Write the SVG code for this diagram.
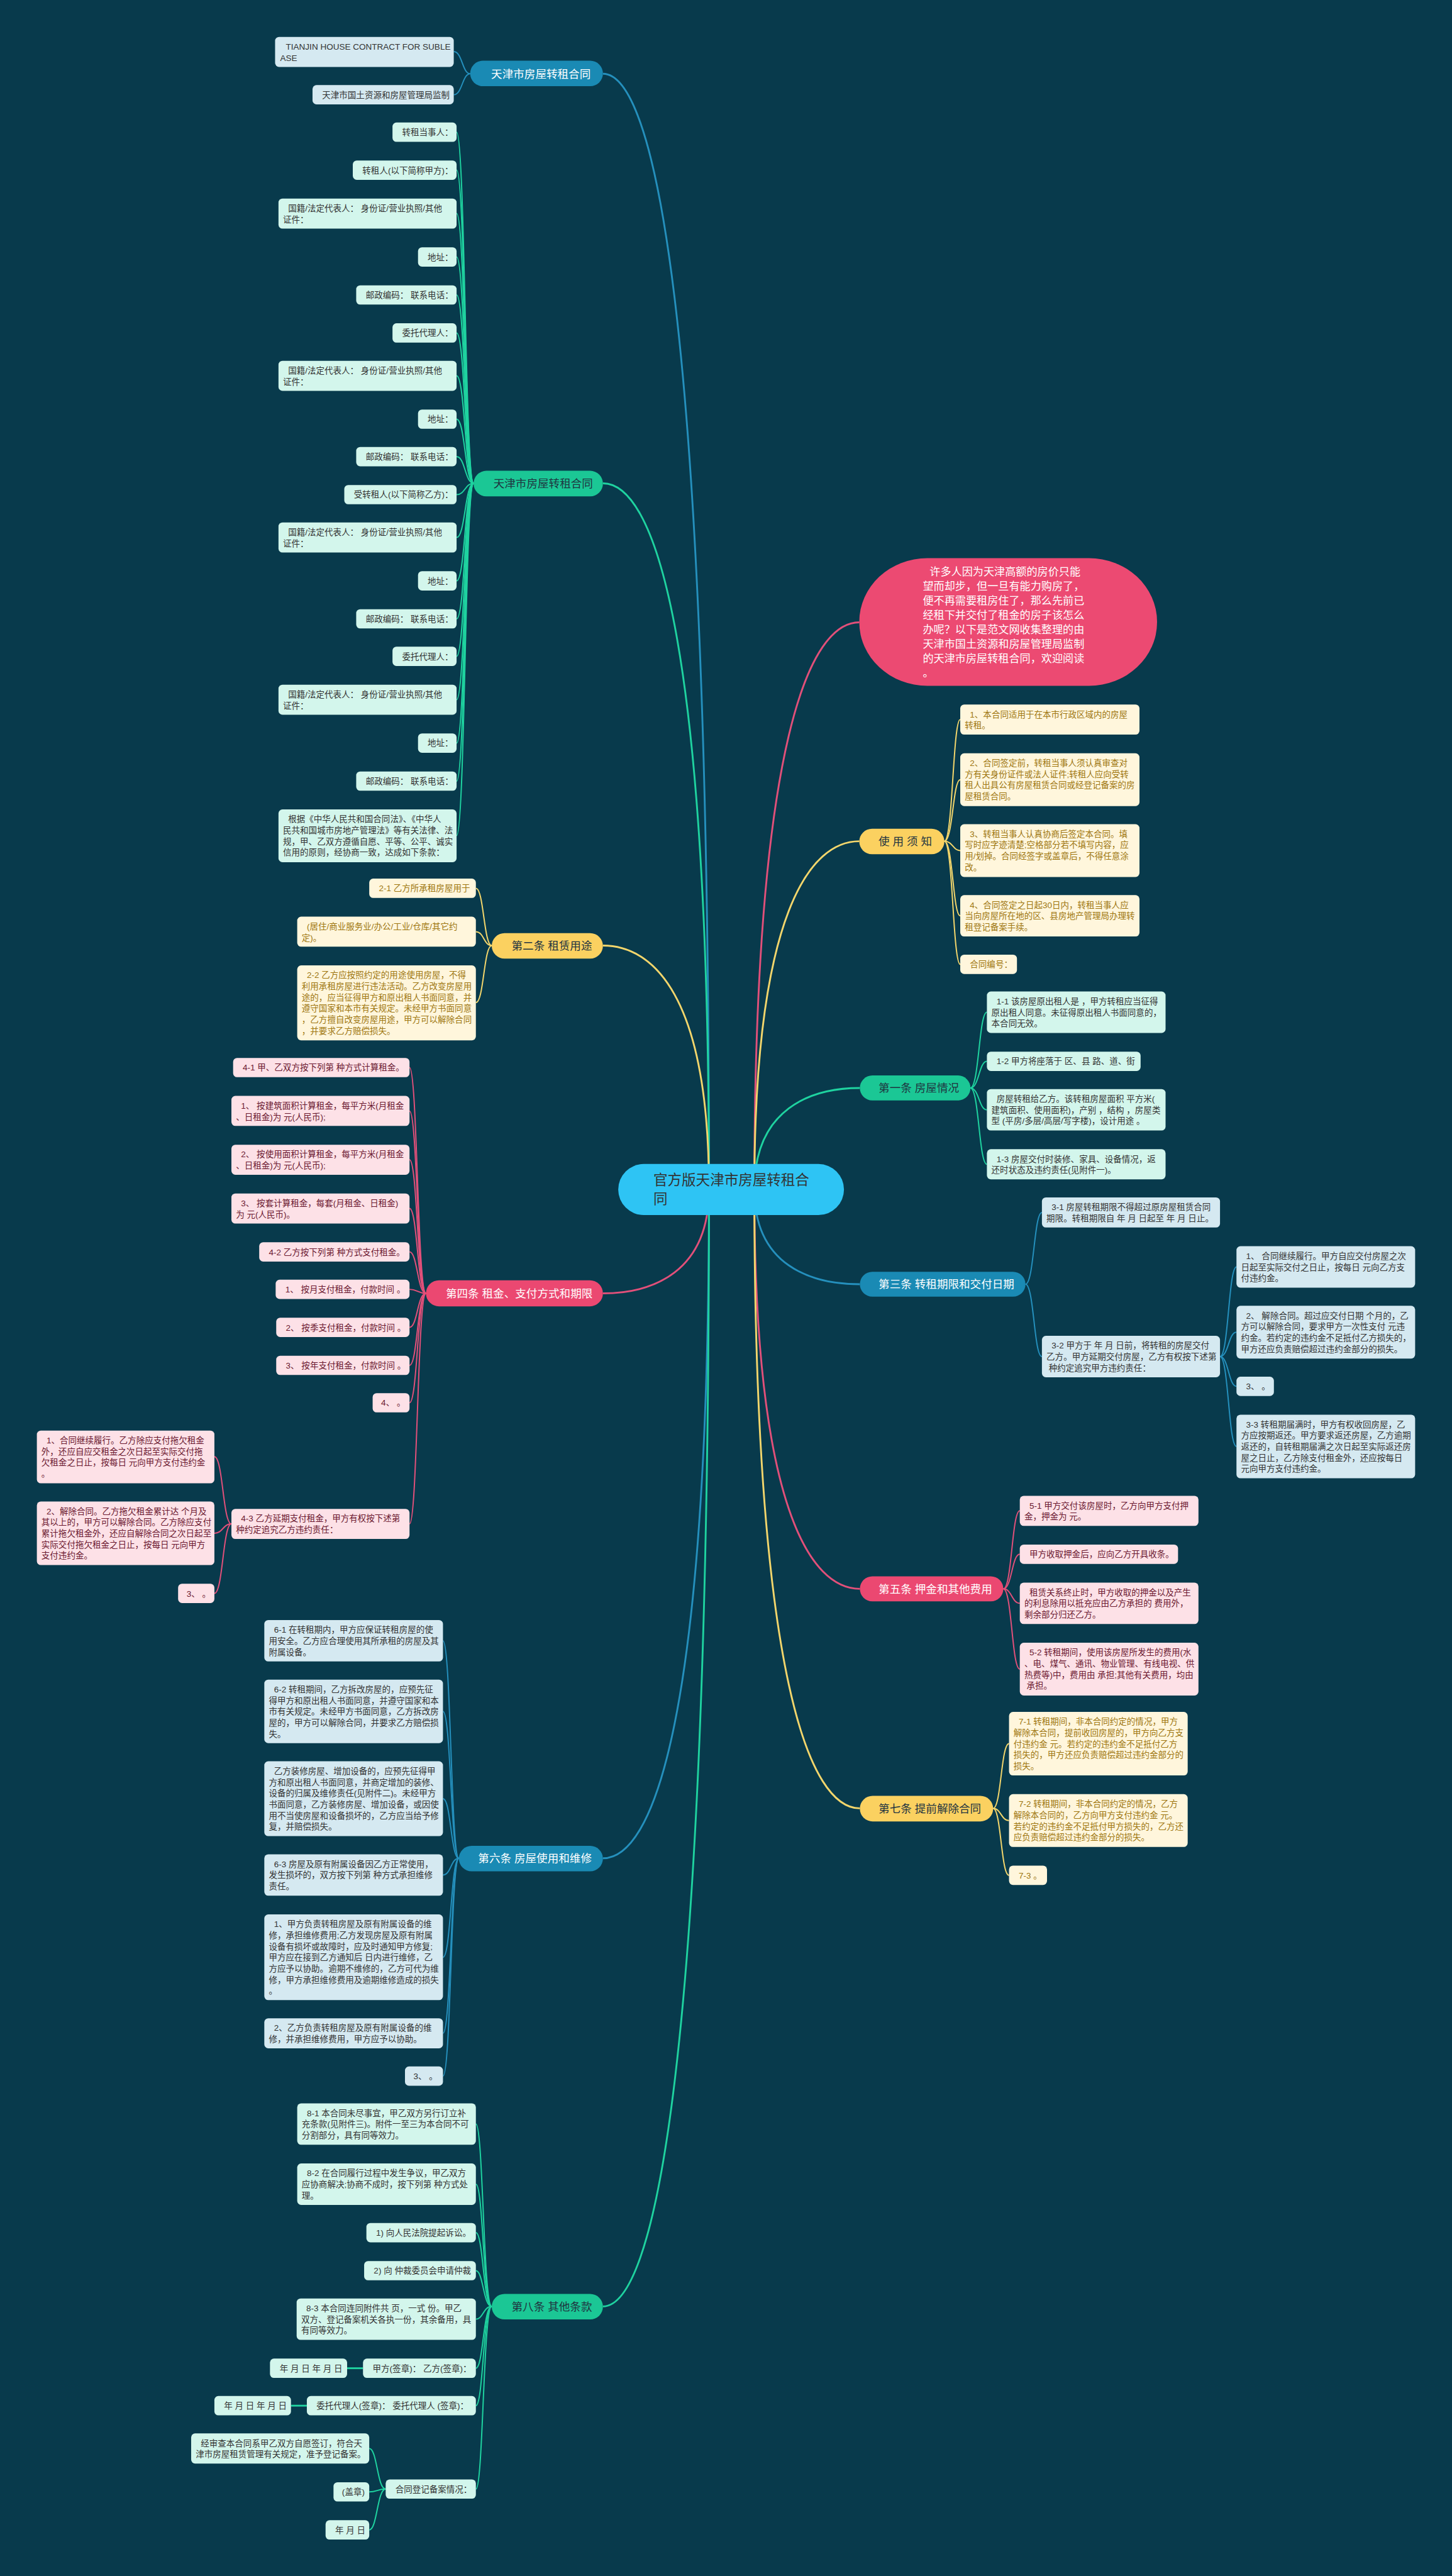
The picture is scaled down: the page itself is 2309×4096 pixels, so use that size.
<svg xmlns="http://www.w3.org/2000/svg" width="2309" height="4096" viewBox="0 0 2309 4096">
<style>
text{font-family:"Liberation Sans","Noto Sans CJK SC",sans-serif}
.t{font-size:15px}
.mt{font-size:19.5px}
.w{fill:#ffffff}
.d{fill:#1f3440}
.tb{fill:#333333}
.tp{fill:#6b1830}
.ty{fill:#9e7610}
.nb{fill:#1a8ab4}
.ng{fill:#1bc795}
.ny{fill:#fbd160}
.np{fill:#eb4871}
.bb{fill:#d5e9f1}
.bm{fill:#d3f6ec}
.by{fill:#fff6dc}
.bp{fill:#fde1e7}
.c{fill:none;stroke-width:2.2}
.m{stroke-width:3.2}
.sb{stroke:#2590bd}
.sg{stroke:#1fd3a0}
.sy{stroke:#f3d66c}
.sp{stroke:#e2507a}
</style>
<rect width="2309" height="4096" fill="#083a4c"/>
<g transform="scale(0.90195)">
<g id="connectors">
<path class="c m sb" d="M1250,2097 C1250,523 1150,130 1063,130"/>
<path class="c m sg" d="M1250,2097 C1250,1101 1150,852 1063,852"/>
<path class="c m sy" d="M1250,2097 C1250,1753 1150,1667 1063,1667"/>
<path class="c m sp" d="M1250,2097 C1250,2243 1150,2280 1063,2280"/>
<path class="c m sb" d="M1250,2097 C1250,3040 1150,3276 1063,3276"/>
<path class="c m sg" d="M1250,2097 C1250,3672 1150,4066 1063,4066"/>
<path class="c m sp" d="M1330,2097 C1330,1297 1430,1097 1515,1097"/>
<path class="c m sy" d="M1330,2097 C1330,1606 1430,1483 1515,1483"/>
<path class="c m sg" d="M1330,2097 C1330,1954 1430,1918 1516,1918"/>
<path class="c m sb" d="M1330,2097 C1330,2231 1430,2264 1516,2264"/>
<path class="c m sp" d="M1330,2097 C1330,2660 1430,2801 1516,2801"/>
<path class="c m sy" d="M1330,2097 C1330,2970 1430,3188 1516,3188"/>
<!-- A -->
<path class="c sb" d="M829,130 C815,130 815,91 800,91"/>
<path class="c sb" d="M829,130 C815,130 815,167 800,167"/>
<!-- B -->
<path class="c sg" d="M835,852 C820,852 820,233 805,233"/>
<path class="c sg" d="M835,852 C820,852 820,300 805,300"/>
<path class="c sg" d="M835,852 C820,852 820,376.5 805,376.5"/>
<path class="c sg" d="M835,852 C820,852 820,453 805,453"/>
<path class="c sg" d="M835,852 C820,852 820,520 805,520"/>
<path class="c sg" d="M835,852 C820,852 820,587 805,587"/>
<path class="c sg" d="M835,852 C820,852 820,662.5 805,662.5"/>
<path class="c sg" d="M835,852 C820,852 820,739 805,739"/>
<path class="c sg" d="M835,852 C820,852 820,805 805,805"/>
<path class="c sg" d="M835,852 C820,852 820,872 805,872"/>
<path class="c sg" d="M835,852 C820,852 820,947.5 805,947.5"/>
<path class="c sg" d="M835,852 C820,852 820,1024 805,1024"/>
<path class="c sg" d="M835,852 C820,852 820,1091 805,1091"/>
<path class="c sg" d="M835,852 C820,852 820,1157 805,1157"/>
<path class="c sg" d="M835,852 C820,852 820,1233.5 805,1233.5"/>
<path class="c sg" d="M835,852 C820,852 820,1310 805,1310"/>
<path class="c sg" d="M835,852 C820,852 820,1377 805,1377"/>
<path class="c sg" d="M835,852 C820,852 820,1473 805,1473"/>
<!-- C -->
<path class="c sy" d="M867,1667 C853,1667 853,1566 839,1566"/>
<path class="c sy" d="M867,1667 C853,1667 853,1642.5 839,1642.5"/>
<path class="c sy" d="M867,1667 C853,1667 853,1767.5 839,1767.5"/>
<!-- D -->
<path class="c sp" d="M751,2280 C736,2280 736,1882 722,1882"/>
<path class="c sp" d="M751,2280 C736,2280 736,1958.5 722,1958.5"/>
<path class="c sp" d="M751,2280 C736,2280 736,2044.5 722,2044.5"/>
<path class="c sp" d="M751,2280 C736,2280 736,2130.5 722,2130.5"/>
<path class="c sp" d="M751,2280 C736,2280 736,2207 722,2207"/>
<path class="c sp" d="M751,2280 C736,2280 736,2273 722,2273"/>
<path class="c sp" d="M751,2280 C736,2280 736,2340 722,2340"/>
<path class="c sp" d="M751,2280 C736,2280 736,2407 722,2407"/>
<path class="c sp" d="M751,2280 C736,2280 736,2473 722,2473"/>
<path class="c sp" d="M751,2280 C736,2280 736,2686.5 722,2686.5"/>
<path class="c sp" d="M408,2686.5 C393,2686.5 393,2568 378,2568"/>
<path class="c sp" d="M408,2686.5 C393,2686.5 393,2703 378,2703"/>
<path class="c sp" d="M408,2686.5 C393,2686.5 393,2809 378,2809"/>
<!-- E -->
<path class="c sb" d="M809,3276 C795,3276 795,2892.5 781,2892.5"/>
<path class="c sb" d="M809,3276 C795,3276 795,3017 781,3017"/>
<path class="c sb" d="M809,3276 C795,3276 795,3171 781,3171"/>
<path class="c sb" d="M809,3276 C795,3276 795,3305.5 781,3305.5"/>
<path class="c sb" d="M809,3276 C795,3276 795,3450.5 781,3450.5"/>
<path class="c sb" d="M809,3276 C795,3276 795,3584.5 781,3584.5"/>
<path class="c sb" d="M809,3276 C795,3276 795,3660 781,3660"/>
<!-- F -->
<path class="c sg" d="M867,4066 C852,4066 852,3744.5 839,3744.5"/>
<path class="c sg" d="M867,4066 C852,4066 852,3850.5 839,3850.5"/>
<path class="c sg" d="M867,4066 C852,4066 852,3936 839,3936"/>
<path class="c sg" d="M867,4066 C852,4066 852,4003 839,4003"/>
<path class="c sg" d="M867,4066 C852,4066 852,4088.5 839,4088.5"/>
<path class="c sg" d="M867,4066 C852,4066 852,4175 839,4175"/>
<path class="c sg" d="M867,4066 C852,4066 852,4241 839,4241"/>
<path class="c sg" d="M867,4066 C852,4066 852,4388 839,4388"/>
<path class="c m sg" d="M640,4175 L612,4175"/>
<path class="c m sg" d="M541,4241 L513,4241"/>
<path class="c sg" d="M680,4388 C665,4388 665,4316.5 651,4316.5"/>
<path class="c sg" d="M680,4388 C665,4388 665,4393 651,4393"/>
<path class="c sg" d="M680,4388 C665,4388 665,4460 651,4460"/>
<!-- H -->
<path class="c sy" d="M1665,1483 C1680,1483 1680,1268.5 1693,1268.5"/>
<path class="c sy" d="M1665,1483 C1680,1483 1680,1374.5 1693,1374.5"/>
<path class="c sy" d="M1665,1483 C1680,1483 1680,1499.5 1693,1499.5"/>
<path class="c sy" d="M1665,1483 C1680,1483 1680,1614.5 1693,1614.5"/>
<path class="c sy" d="M1665,1483 C1680,1483 1680,1700 1693,1700"/>
<!-- I -->
<path class="c sg" d="M1711,1918 C1726,1918 1726,1784.5 1740,1784.5"/>
<path class="c sg" d="M1711,1918 C1726,1918 1726,1871 1740,1871"/>
<path class="c sg" d="M1711,1918 C1726,1918 1726,1956.5 1740,1956.5"/>
<path class="c sg" d="M1711,1918 C1726,1918 1726,2052.5 1740,2052.5"/>
<!-- J -->
<path class="c sb" d="M1808,2264 C1823,2264 1823,2137.5 1837,2137.5"/>
<path class="c sb" d="M1808,2264 C1823,2264 1823,2391.5 1837,2391.5"/>
<path class="c sb" d="M2151,2391.5 C2166,2391.5 2166,2233.5 2180,2233.5"/>
<path class="c sb" d="M2151,2391.5 C2166,2391.5 2166,2348.5 2180,2348.5"/>
<path class="c sb" d="M2151,2391.5 C2166,2391.5 2166,2444 2180,2444"/>
<path class="c sb" d="M2151,2391.5 C2166,2391.5 2166,2550 2180,2550"/>
<!-- K -->
<path class="c sp" d="M1769,2801 C1784,2801 1784,2663.5 1798,2663.5"/>
<path class="c sp" d="M1769,2801 C1784,2801 1784,2740 1798,2740"/>
<path class="c sp" d="M1769,2801 C1784,2801 1784,2826.5 1798,2826.5"/>
<path class="c sp" d="M1769,2801 C1784,2801 1784,2942.5 1798,2942.5"/>
<!-- L -->
<path class="c sy" d="M1751,3188 C1765,3188 1765,3074 1779,3074"/>
<path class="c sy" d="M1751,3188 C1765,3188 1765,3209.5 1779,3209.5"/>
<path class="c sy" d="M1751,3188 C1765,3188 1765,3306 1779,3306"/>
</g>

<g id="root">
<rect x="1090" y="2052" width="398" height="90" rx="45" fill="#2ec4f4"/>
<text x="1152" y="2089" style="font-size:25px" fill="#333333">官方版天津市房屋转租合</text>
<text x="1152" y="2122" style="font-size:25px" fill="#333333">同</text>
</g>

<!-- Group A -->
<g id="nA"><rect class="nb" x="829" y="107" width="234" height="45" rx="22.5"/><text class="mt w" x="866" y="137">天津市房屋转租合同</text></g>
<g id="nA1"><rect class="bb" x="485" y="65" width="315" height="53" rx="7"/><text class="t tb"><tspan x="504" y="87.5">TIANJIN HOUSE CONTRACT FOR SUBLE</tspan><tspan x="494" y="107.1">ASE</tspan></text></g>
<g id="nA2"><rect class="bb" x="551" y="150" width="249" height="34" rx="7"/><text class="t tb" x="568" y="172.5">天津市国土资源和房屋管理局监制</text></g>

<!-- Group B -->
<g id="nB"><rect class="ng" x="835" y="830" width="228" height="45" rx="22.5"/><text class="mt d" x="870" y="859">天津市房屋转租合同</text></g>
<g id="nB1"><rect class="bm" x="692" y="216" width="113" height="34" rx="7"/><text class="t tb" x="709" y="238.5">转租当事人：</text></g>
<g id="nB2"><rect class="bm" x="622" y="283" width="183" height="34" rx="7"/><text class="t tb" x="639" y="305.5">转租人(以下简称甲方)：</text></g>
<g id="nB3"><rect class="bm" x="491" y="350" width="314" height="53" rx="7"/><text class="t tb"><tspan x="508" y="372.5">国籍/法定代表人： 身份证/营业执照/其他</tspan><tspan x="499" y="392.1">证件：</tspan></text></g>
<g id="nB4"><rect class="bm" x="737" y="436" width="68" height="34" rx="7"/><text class="t tb" x="754" y="458.5">地址：</text></g>
<g id="nB5"><rect class="bm" x="628" y="503" width="177" height="34" rx="7"/><text class="t tb" x="645" y="525.5">邮政编码： 联系电话：</text></g>
<g id="nB6"><rect class="bm" x="692" y="570" width="113" height="34" rx="7"/><text class="t tb" x="709" y="592.5">委托代理人：</text></g>
<g id="nB7"><rect class="bm" x="491" y="636" width="314" height="53" rx="7"/><text class="t tb"><tspan x="508" y="658.5">国籍/法定代表人： 身份证/营业执照/其他</tspan><tspan x="499" y="678.1">证件：</tspan></text></g>
<g id="nB8"><rect class="bm" x="737" y="722" width="68" height="34" rx="7"/><text class="t tb" x="754" y="744.5">地址：</text></g>
<g id="nB9"><rect class="bm" x="628" y="788" width="177" height="34" rx="7"/><text class="t tb" x="645" y="810.5">邮政编码： 联系电话：</text></g>
<g id="nB10"><rect class="bm" x="607" y="855" width="198" height="34" rx="7"/><text class="t tb" x="624" y="877.5">受转租人(以下简称乙方)：</text></g>
<g id="nB11"><rect class="bm" x="491" y="921" width="314" height="53" rx="7"/><text class="t tb"><tspan x="508" y="943.5">国籍/法定代表人： 身份证/营业执照/其他</tspan><tspan x="499" y="963.1">证件：</tspan></text></g>
<g id="nB12"><rect class="bm" x="737" y="1007" width="68" height="34" rx="7"/><text class="t tb" x="754" y="1029.5">地址：</text></g>
<g id="nB13"><rect class="bm" x="628" y="1074" width="177" height="34" rx="7"/><text class="t tb" x="645" y="1096.5">邮政编码： 联系电话：</text></g>
<g id="nB14"><rect class="bm" x="692" y="1140" width="113" height="34" rx="7"/><text class="t tb" x="709" y="1162.5">委托代理人：</text></g>
<g id="nB15"><rect class="bm" x="491" y="1207" width="314" height="53" rx="7"/><text class="t tb"><tspan x="508" y="1229.5">国籍/法定代表人： 身份证/营业执照/其他</tspan><tspan x="499" y="1249.1">证件：</tspan></text></g>
<g id="nB16"><rect class="bm" x="737" y="1293" width="68" height="34" rx="7"/><text class="t tb" x="754" y="1315.5">地址：</text></g>
<g id="nB17"><rect class="bm" x="628" y="1360" width="177" height="34" rx="7"/><text class="t tb" x="645" y="1382.5">邮政编码： 联系电话：</text></g>
<g id="nB18"><rect class="bm" x="491" y="1427" width="314" height="93" rx="7"/><text class="t tb"><tspan x="508" y="1449.5">根据《中华人民共和国合同法》、《中华人</tspan><tspan x="499" y="1469.1">民共和国城市房地产管理法》等有关法律、法</tspan><tspan x="499" y="1488.7">规，甲、乙双方遵循自愿、平等、公平、诚实</tspan><tspan x="499" y="1508.3">信用的原则，经协商一致，达成如下条款：</tspan></text></g>

<!-- Group C -->
<g id="nC"><rect class="ny" x="867" y="1645" width="196" height="45" rx="22.5"/><text class="mt d" x="902" y="1674">第二条 租赁用途</text></g>
<g id="nC1"><rect class="by" x="651" y="1549" width="188" height="34" rx="7"/><text class="t ty" x="668" y="1571.5">2-1 乙方所承租房屋用于</text></g>
<g id="nC2"><rect class="by" x="524" y="1616" width="315" height="53" rx="7"/><text class="t ty"><tspan x="541" y="1638.5">(居住/商业服务业/办公/工业/仓库/其它约</tspan><tspan x="532" y="1658.1">定)。</tspan></text></g>
<g id="nC3"><rect class="by" x="524" y="1702" width="315" height="132" rx="7"/><text class="t ty"><tspan x="541" y="1724.5">2-2 乙方应按照约定的用途使用房屋，不得</tspan><tspan x="532" y="1744.1">利用承租房屋进行违法活动。乙方改变房屋用</tspan><tspan x="532" y="1763.7">途的，应当征得甲方和原出租人书面同意，并</tspan><tspan x="532" y="1783.3">遵守国家和本市有关规定。未经甲方书面同意</tspan><tspan x="532" y="1802.9">，乙方擅自改变房屋用途，甲方可以解除合同</tspan><tspan x="532" y="1822.5">，并要求乙方赔偿损失。</tspan></text></g>

<!-- Group D -->
<g id="nD"><rect class="np" x="751" y="2257" width="312" height="46" rx="23"/><text class="mt w" x="786" y="2287">第四条 租金、支付方式和期限</text></g>
<g id="nD1"><rect class="bp" x="411" y="1865" width="311" height="34" rx="7"/><text class="t tp" x="428" y="1887.5">4-1 甲、乙双方按下列第 种方式计算租金。</text></g>
<g id="nD2"><rect class="bp" x="408" y="1932" width="314" height="53" rx="7"/><text class="t tp"><tspan x="425" y="1954.5">1、 按建筑面积计算租金，每平方米(月租金</tspan><tspan x="416" y="1974.1">、日租金)为 元(人民币);</tspan></text></g>
<g id="nD3"><rect class="bp" x="408" y="2018" width="314" height="53" rx="7"/><text class="t tp"><tspan x="425" y="2040.5">2、 按使用面积计算租金，每平方米(月租金</tspan><tspan x="416" y="2060.1">、日租金)为 元(人民币);</tspan></text></g>
<g id="nD4"><rect class="bp" x="408" y="2104" width="314" height="53" rx="7"/><text class="t tp"><tspan x="425" y="2126.5">3、 按套计算租金，每套(月租金、日租金)</tspan><tspan x="416" y="2146.1">为 元(人民币)。</tspan></text></g>
<g id="nD5"><rect class="bp" x="457" y="2190" width="265" height="34" rx="7"/><text class="t tp" x="474" y="2212.5">4-2 乙方按下列第 种方式支付租金。</text></g>
<g id="nD6"><rect class="bp" x="486" y="2256" width="236" height="34" rx="7"/><text class="t tp" x="503" y="2278.5">1、 按月支付租金，付款时间 。</text></g>
<g id="nD7"><rect class="bp" x="487" y="2323" width="235" height="34" rx="7"/><text class="t tp" x="504" y="2345.5">2、 按季支付租金，付款时间 。</text></g>
<g id="nD8"><rect class="bp" x="487" y="2390" width="235" height="34" rx="7"/><text class="t tp" x="504" y="2412.5">3、 按年支付租金，付款时间 。</text></g>
<g id="nD9"><rect class="bp" x="657" y="2456" width="65" height="34" rx="7"/><text class="t tp" x="672" y="2478.5">4、 。</text></g>
<g id="nD10"><rect class="bp" x="408" y="2660" width="314" height="53" rx="7"/><text class="t tp"><tspan x="425" y="2682.5">4-3 乙方延期支付租金，甲方有权按下述第</tspan><tspan x="416" y="2702.1">种约定追究乙方违约责任：</tspan></text></g>
<g id="nD11"><rect class="bp" x="65" y="2522" width="313" height="93" rx="7"/><text class="t tp"><tspan x="82" y="2544.5">1、合同继续履行。乙方除应支付拖欠租金</tspan><tspan x="73" y="2564.1">外，还应自应交租金之次日起至实际交付拖</tspan><tspan x="73" y="2583.7">欠租金之日止，按每日 元向甲方支付违约金</tspan><tspan x="73" y="2603.3">。</tspan></text></g>
<g id="nD12"><rect class="bp" x="65" y="2647" width="313" height="112" rx="7"/><text class="t tp"><tspan x="82" y="2669.5">2、解除合同。乙方拖欠租金累计达 个月及</tspan><tspan x="73" y="2689.1">其以上的，甲方可以解除合同。乙方除应支付</tspan><tspan x="73" y="2708.7">累计拖欠租金外，还应自解除合同之次日起至</tspan><tspan x="73" y="2728.3">实际交付拖欠租金之日止，按每日 元向甲方</tspan><tspan x="73" y="2747.9">支付违约金。</tspan></text></g>
<g id="nD13"><rect class="bp" x="314" y="2792" width="64" height="34" rx="7"/><text class="t tp" x="329" y="2814.5">3、 。</text></g>

<!-- Group E -->
<g id="nE"><rect class="nb" x="809" y="3254" width="254" height="45" rx="22.5"/><text class="mt w" x="843" y="3283">第六条 房屋使用和维修</text></g>
<g id="nE1"><rect class="bb" x="466" y="2856" width="315" height="73" rx="7"/><text class="t tb"><tspan x="483" y="2878.5">6-1 在转租期内，甲方应保证转租房屋的使</tspan><tspan x="474" y="2898.1">用安全。乙方应合理使用其所承租的房屋及其</tspan><tspan x="474" y="2917.7">附属设备。</tspan></text></g>
<g id="nE2"><rect class="bb" x="466" y="2961" width="315" height="112" rx="7"/><text class="t tb"><tspan x="483" y="2983.5">6-2 转租期间，乙方拆改房屋的，应预先征</tspan><tspan x="474" y="3003.1">得甲方和原出租人书面同意，并遵守国家和本</tspan><tspan x="474" y="3022.7">市有关规定。未经甲方书面同意，乙方拆改房</tspan><tspan x="474" y="3042.3">屋的，甲方可以解除合同，并要求乙方赔偿损</tspan><tspan x="474" y="3061.9">失。</tspan></text></g>
<g id="nE3"><rect class="bb" x="466" y="3105" width="315" height="132" rx="7"/><text class="t tb"><tspan x="483" y="3127.5">乙方装修房屋、增加设备的，应预先征得甲</tspan><tspan x="474" y="3147.1">方和原出租人书面同意，并商定增加的装修、</tspan><tspan x="474" y="3166.7">设备的归属及维修责任(见附件二)。未经甲方</tspan><tspan x="474" y="3186.3">书面同意，乙方装修房屋、增加设备，或因使</tspan><tspan x="474" y="3205.9">用不当使房屋和设备损坏的，乙方应当给予修</tspan><tspan x="474" y="3225.5">复，并赔偿损失。</tspan></text></g>
<g id="nE4"><rect class="bb" x="466" y="3269" width="315" height="73" rx="7"/><text class="t tb"><tspan x="483" y="3291.5">6-3 房屋及原有附属设备因乙方正常使用，</tspan><tspan x="474" y="3311.1">发生损坏的，双方按下列第 种方式承担维修</tspan><tspan x="474" y="3330.7">责任。</tspan></text></g>
<g id="nE5"><rect class="bb" x="466" y="3375" width="315" height="151" rx="7"/><text class="t tb"><tspan x="483" y="3397.5">1、甲方负责转租房屋及原有附属设备的维</tspan><tspan x="474" y="3417.1">修，承担维修费用;乙方发现房屋及原有附属</tspan><tspan x="474" y="3436.7">设备有损坏或故障时，应及时通知甲方修复;</tspan><tspan x="474" y="3456.3">甲方应在接到乙方通知后 日内进行维修，乙</tspan><tspan x="474" y="3475.9">方应予以协助。逾期不维修的，乙方可代为维</tspan><tspan x="474" y="3495.5">修，甲方承担维修费用及逾期维修造成的损失</tspan><tspan x="474" y="3515.1">。</tspan></text></g>
<g id="nE6"><rect class="bb" x="466" y="3558" width="315" height="53" rx="7"/><text class="t tb"><tspan x="483" y="3580.5">2、乙方负责转租房屋及原有附属设备的维</tspan><tspan x="474" y="3600.1">修，并承担维修费用，甲方应予以协助。</tspan></text></g>
<g id="nE7"><rect class="bb" x="714" y="3643" width="67" height="34" rx="7"/><text class="t tb" x="729" y="3665.5">3、 。</text></g>

<!-- Group F -->
<g id="nF"><rect class="ng" x="867" y="4044" width="196" height="45" rx="22.5"/><text class="mt d" x="902" y="4073">第八条 其他条款</text></g>
<g id="nF1"><rect class="bm" x="524" y="3708" width="315" height="73" rx="7"/><text class="t tb"><tspan x="541" y="3730.5">8-1 本合同未尽事宜，甲乙双方另行订立补</tspan><tspan x="532" y="3750.1">充条款(见附件三)。附件一至三为本合同不可</tspan><tspan x="532" y="3769.7">分割部分，具有同等效力。</tspan></text></g>
<g id="nF2"><rect class="bm" x="524" y="3814" width="315" height="73" rx="7"/><text class="t tb"><tspan x="541" y="3836.5">8-2 在合同履行过程中发生争议，甲乙双方</tspan><tspan x="532" y="3856.1">应协商解决;协商不成时，按下列第 种方式处</tspan><tspan x="532" y="3875.7">理。</tspan></text></g>
<g id="nF3"><rect class="bm" x="646" y="3919" width="193" height="34" rx="7"/><text class="t tb" x="663" y="3941.5">1) 向人民法院提起诉讼。</text></g>
<g id="nF4"><rect class="bm" x="642" y="3986" width="197" height="34" rx="7"/><text class="t tb" x="659" y="4008.5">2) 向 仲裁委员会申请仲裁</text></g>
<g id="nF5"><rect class="bm" x="523" y="4052" width="316" height="73" rx="7"/><text class="t tb"><tspan x="540" y="4074.5">8-3 本合同连同附件共 页，一式 份。甲乙</tspan><tspan x="531" y="4094.1">双方、登记备案机关各执一份，其余备用，具</tspan><tspan x="531" y="4113.7">有同等效力。</tspan></text></g>
<g id="nF6"><rect class="bm" x="640" y="4158" width="199" height="34" rx="7"/><text class="t tb" x="657" y="4180.5">甲方(签章)： 乙方(签章)：</text></g>
<g id="nF6a"><rect class="bm" x="476" y="4158" width="136" height="34" rx="7"/><text class="t tb" x="493" y="4180.5">年 月 日 年 月 日</text></g>
<g id="nF7"><rect class="bm" x="541" y="4224" width="298" height="34" rx="7"/><text class="t tb" x="558" y="4246.5">委托代理人(签章)： 委托代理人 (签章)：</text></g>
<g id="nF7a"><rect class="bm" x="378" y="4224" width="135" height="34" rx="7"/><text class="t tb" x="395" y="4246.5">年 月 日 年 月 日</text></g>
<g id="nF8"><rect class="bm" x="680" y="4371" width="159" height="34" rx="7"/><text class="t tb" x="697" y="4393.5">合同登记备案情况：</text></g>
<g id="nF8a"><rect class="bm" x="337" y="4290" width="314" height="53" rx="7"/><text class="t tb"><tspan x="354" y="4312.5">经审查本合同系甲乙双方自愿签订，符合天</tspan><tspan x="345" y="4332.1">津市房屋租赁管理有关规定，准予登记备案。</tspan></text></g>
<g id="nF8b"><rect class="bm" x="588" y="4376" width="63" height="34" rx="7"/><text class="t tb" x="603" y="4398.5">(盖章)</text></g>
<g id="nF8c"><rect class="bm" x="574" y="4443" width="77" height="34" rx="7"/><text class="t tb" x="591" y="4465.5">年 月 日</text></g>

<!-- Bubble G -->
<g id="nG"><rect x="1515" y="984" width="525" height="225" rx="120" ry="112" fill="#ec4a72"/>
<text style="font-size:19px" class="w"><tspan x="1639" y="1014">许多人因为天津高额的房价只能</tspan><tspan x="1627" y="1040">望而却步，但一旦有能力购房了，</tspan><tspan x="1627" y="1065">便不再需要租房住了，那么先前已</tspan><tspan x="1627" y="1091">经租下并交付了租金的房子该怎么</tspan><tspan x="1627" y="1116">办呢？以下是范文网收集整理的由</tspan><tspan x="1627" y="1142">天津市国土资源和房屋管理局监制</tspan><tspan x="1627" y="1167">的天津市房屋转租合同，欢迎阅读</tspan><tspan x="1627" y="1193">。</tspan></text></g>

<!-- Group H -->
<g id="nH"><rect class="ny" x="1515" y="1461" width="150" height="45" rx="22.5"/><text class="mt d" x="1549" y="1490">使 用 须 知</text></g>
<g id="nH1"><rect class="by" x="1693" y="1242" width="316" height="53" rx="7"/><text class="t ty"><tspan x="1710" y="1264.5">1、本合同适用于在本市行政区域内的房屋</tspan><tspan x="1701" y="1284.1">转租。</tspan></text></g>
<g id="nH2"><rect class="by" x="1693" y="1328" width="316" height="93" rx="7"/><text class="t ty"><tspan x="1710" y="1350.5">2、合同签定前，转租当事人须认真审查对</tspan><tspan x="1701" y="1370.1">方有关身份证件或法人证件;转租人应向受转</tspan><tspan x="1701" y="1389.7">租人出具公有房屋租赁合同或经登记备案的房</tspan><tspan x="1701" y="1409.3">屋租赁合同。</tspan></text></g>
<g id="nH3"><rect class="by" x="1693" y="1453" width="316" height="93" rx="7"/><text class="t ty"><tspan x="1710" y="1475.5">3、转租当事人认真协商后签定本合同。填</tspan><tspan x="1701" y="1495.1">写时应字迹清楚;空格部分若不填写内容，应</tspan><tspan x="1701" y="1514.7">用/划掉。合同经签字或盖章后，不得任意涂</tspan><tspan x="1701" y="1534.3">改。</tspan></text></g>
<g id="nH4"><rect class="by" x="1693" y="1578" width="316" height="73" rx="7"/><text class="t ty"><tspan x="1710" y="1600.5">4、合同签定之日起30日内，转租当事人应</tspan><tspan x="1701" y="1620.1">当向房屋所在地的区、县房地产管理局办理转</tspan><tspan x="1701" y="1639.7">租登记备案手续。</tspan></text></g>
<g id="nH5"><rect class="by" x="1693" y="1683" width="100" height="34" rx="7"/><text class="t ty" x="1710" y="1705.5">合同编号：</text></g>

<!-- Group I -->
<g id="nI"><rect class="ng" x="1516" y="1896" width="195" height="44" rx="22"/><text class="mt d" x="1549" y="1925">第一条 房屋情况</text></g>
<g id="nI1"><rect class="bm" x="1740" y="1748" width="315" height="73" rx="7"/><text class="t tb"><tspan x="1757" y="1770.5">1-1 该房屋原出租人是 ，甲方转租应当征得</tspan><tspan x="1748" y="1790.1">原出租人同意。未征得原出租人书面同意的，</tspan><tspan x="1748" y="1809.7">本合同无效。</tspan></text></g>
<g id="nI2"><rect class="bm" x="1740" y="1854" width="271" height="34" rx="7"/><text class="t tb" x="1757" y="1876.5">1-2 甲方将座落于 区、县 路、道、街</text></g>
<g id="nI3"><rect class="bm" x="1740" y="1920" width="315" height="73" rx="7"/><text class="t tb"><tspan x="1757" y="1942.5">房屋转租给乙方。该转租房屋面积 平方米(</tspan><tspan x="1748" y="1962.1">建筑面积、使用面积)，产别 ，结构 ，房屋类</tspan><tspan x="1748" y="1981.7">型 (平房/多层/高层/写字楼)，设计用途 。</tspan></text></g>
<g id="nI4"><rect class="bm" x="1740" y="2026" width="315" height="53" rx="7"/><text class="t tb"><tspan x="1757" y="2048.5">1-3 房屋交付时装修、家具、设备情况，返</tspan><tspan x="1748" y="2068.1">还时状态及违约责任(见附件一)。</tspan></text></g>

<!-- Group J -->
<g id="nJ"><rect class="nb" x="1516" y="2242" width="292" height="44" rx="22"/><text class="mt w" x="1549" y="2271">第三条 转租期限和交付日期</text></g>
<g id="nJ1"><rect class="bb" x="1837" y="2111" width="314" height="53" rx="7"/><text class="t tb"><tspan x="1854" y="2133.5">3-1 房屋转租期限不得超过原房屋租赁合同</tspan><tspan x="1845" y="2153.1">期限。转租期限自 年 月 日起至 年 月 日止。</tspan></text></g>
<g id="nJ2"><rect class="bb" x="1837" y="2355" width="314" height="73" rx="7"/><text class="t tb"><tspan x="1854" y="2377.5">3-2 甲方于 年 月 日前，将转租的房屋交付</tspan><tspan x="1845" y="2397.1">乙方。甲方延期交付房屋，乙方有权按下述第</tspan><tspan x="1849" y="2416.7">种约定追究甲方违约责任：</tspan></text></g>
<g id="nJ3"><rect class="bb" x="2180" y="2197" width="315" height="73" rx="7"/><text class="t tb"><tspan x="2197" y="2219.5">1、 合同继续履行。甲方自应交付房屋之次</tspan><tspan x="2188" y="2239.1">日起至实际交付之日止，按每日 元向乙方支</tspan><tspan x="2188" y="2258.7">付违约金。</tspan></text></g>
<g id="nJ4"><rect class="bb" x="2180" y="2302" width="315" height="93" rx="7"/><text class="t tb"><tspan x="2197" y="2324.5">2、 解除合同。超过应交付日期 个月的，乙</tspan><tspan x="2188" y="2344.1">方可以解除合同，要求甲方一次性支付 元违</tspan><tspan x="2188" y="2363.7">约金。若约定的违约金不足抵付乙方损失的，</tspan><tspan x="2188" y="2383.3">甲方还应负责赔偿超过违约金部分的损失。</tspan></text></g>
<g id="nJ5"><rect class="bb" x="2180" y="2427" width="66" height="34" rx="7"/><text class="t tb" x="2197" y="2449.5">3、 。</text></g>
<g id="nJ6"><rect class="bb" x="2180" y="2494" width="315" height="112" rx="7"/><text class="t tb"><tspan x="2197" y="2516.5">3-3 转租期届满时，甲方有权收回房屋，乙</tspan><tspan x="2188" y="2536.1">方应按期返还。甲方要求返还房屋，乙方逾期</tspan><tspan x="2188" y="2555.7">返还的，自转租期届满之次日起至实际返还房</tspan><tspan x="2188" y="2575.3">屋之日止，乙方除支付租金外，还应按每日</tspan><tspan x="2188" y="2594.9">元向甲方支付违约金。</tspan></text></g>

<!-- Group K -->
<g id="nK"><rect class="np" x="1516" y="2779" width="253" height="44" rx="22"/><text class="mt w" x="1549" y="2808">第五条 押金和其他费用</text></g>
<g id="nK1"><rect class="bp" x="1798" y="2637" width="315" height="53" rx="7"/><text class="t tp"><tspan x="1815" y="2659.5">5-1 甲方交付该房屋时，乙方向甲方支付押</tspan><tspan x="1806" y="2679.1">金，押金为 元。</tspan></text></g>
<g id="nK2"><rect class="bp" x="1798" y="2723" width="279" height="34" rx="7"/><text class="t tp" x="1815" y="2745.5">甲方收取押金后，应向乙方开具收条。</text></g>
<g id="nK3"><rect class="bp" x="1798" y="2790" width="315" height="73" rx="7"/><text class="t tp"><tspan x="1815" y="2812.5">租赁关系终止时，甲方收取的押金以及产生</tspan><tspan x="1806" y="2832.1">的利息除用以抵充应由乙方承担的 费用外，</tspan><tspan x="1806" y="2851.7">剩余部分归还乙方。</tspan></text></g>
<g id="nK4"><rect class="bp" x="1798" y="2896" width="315" height="93" rx="7"/><text class="t tp"><tspan x="1815" y="2918.5">5-2 转租期间，使用该房屋所发生的费用(水</tspan><tspan x="1806" y="2938.1">、电、煤气、通讯、物业管理、有线电视、供</tspan><tspan x="1806" y="2957.7">热费等)中，费用由 承担;其他有关费用，均由</tspan><tspan x="1810" y="2977.3">承担。</tspan></text></g>

<!-- Group L -->
<g id="nL"><rect class="ny" x="1516" y="3166" width="235" height="45" rx="22.5"/><text class="mt d" x="1549" y="3195">第七条 提前解除合同</text></g>
<g id="nL1"><rect class="by" x="1779" y="3018" width="315" height="112" rx="7"/><text class="t ty"><tspan x="1796" y="3040.5">7-1 转租期间，非本合同约定的情况，甲方</tspan><tspan x="1787" y="3060.1">解除本合同，提前收回房屋的，甲方向乙方支</tspan><tspan x="1787" y="3079.7">付违约金 元。若约定的违约金不足抵付乙方</tspan><tspan x="1787" y="3099.3">损失的，甲方还应负责赔偿超过违约金部分的</tspan><tspan x="1787" y="3118.9">损失。</tspan></text></g>
<g id="nL2"><rect class="by" x="1779" y="3163" width="315" height="93" rx="7"/><text class="t ty"><tspan x="1796" y="3185.5">7-2 转租期间，非本合同约定的情况，乙方</tspan><tspan x="1787" y="3205.1">解除本合同的，乙方向甲方支付违约金 元。</tspan><tspan x="1787" y="3224.7">若约定的违约金不足抵付甲方损失的，乙方还</tspan><tspan x="1787" y="3244.3">应负责赔偿超过违约金部分的损失。</tspan></text></g>
<g id="nL3"><rect class="by" x="1779" y="3289" width="67" height="34" rx="7"/><text class="t ty" x="1796" y="3311.5">7-3 。</text></g>
</g>
</svg>
